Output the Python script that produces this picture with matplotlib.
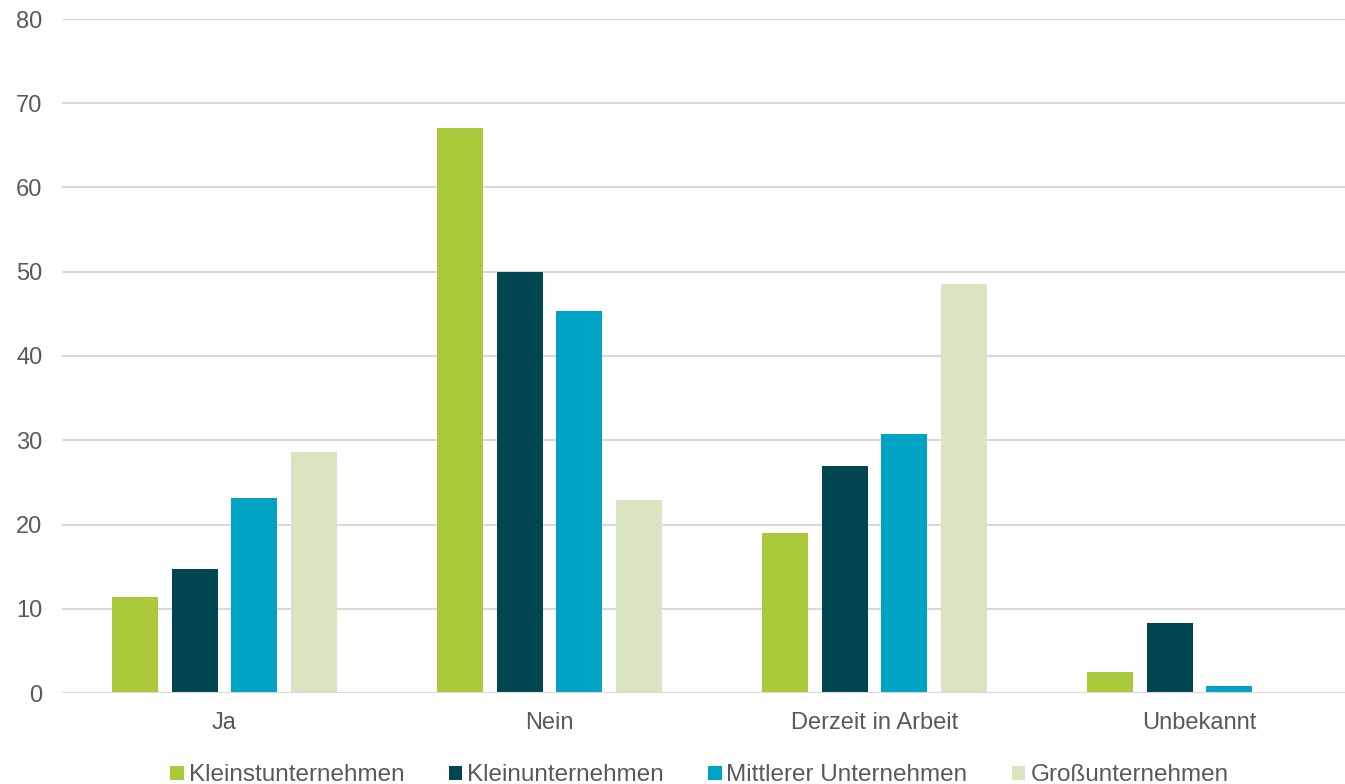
import numpy as np
import matplotlib.pyplot as plt

plt.rcParams['font.family'] = ['Liberation Sans', 'DejaVu Sans']

categories = ['Ja', 'Nein', 'Derzeit in Arbeit', 'Unbekannt']
series_names = ['Kleinstunternehmen', 'Kleinunternehmen', 'Mittlerer Unternehmen', 'Großunternehmen']
kleinst = [11.4, 67.1, 19.0, 2.5]
klein = [14.7, 50.0, 26.9, 8.3]
mittel = [23.1, 45.3, 30.7, 0.8]
gross = [28.6, 22.9, 48.6, 0.0]
colors = ['#aac939', '#004651', '#00a3c4', '#d9e4c0']

fig = plt.figure(figsize=(13.45, 7.84), dpi=100)
# plot area runs a bit past the right edge of the image, as in the original
ax = fig.add_axes([62 / 1345, 91 / 784, 1300 / 1345, 674 / 784])

x = np.arange(len(categories))
step = 0.1826
width = 0.1415
for k, (vals, name) in enumerate(zip([kleinst, klein, mittel, gross], series_names)):
    ax.bar(x + (k - 1.5) * step, vals, width=width, color=colors[k], label=name, zorder=3)

ax.set_xlim(-0.5, 3.5)
ax.set_ylim(0, 80)
ax.set_yticks(range(0, 81, 10))
ax.set_xticks(x)
ax.set_xticklabels(categories)
ax.grid(axis='y', color='#d9d9d9', linewidth=1.5, zorder=0)
ax.axhline(0, color='#d9d9d9', linewidth=1.5, zorder=4)
for s in ax.spines.values():
    s.set_visible(False)
ax.tick_params(axis='both', length=0, labelsize=17, labelcolor='#595959')
ax.tick_params(axis='x', pad=14)
ax.tick_params(axis='y', pad=14)

fig.legend(loc='lower center', bbox_to_anchor=(0.52, -0.031), ncol=4, frameon=False,
           fontsize=17.5, labelcolor='#595959', handlelength=0.55, handleheight=0.55,
           handletextpad=0.2, columnspacing=1.83)

fig.savefig('out.png', dpi=100)
